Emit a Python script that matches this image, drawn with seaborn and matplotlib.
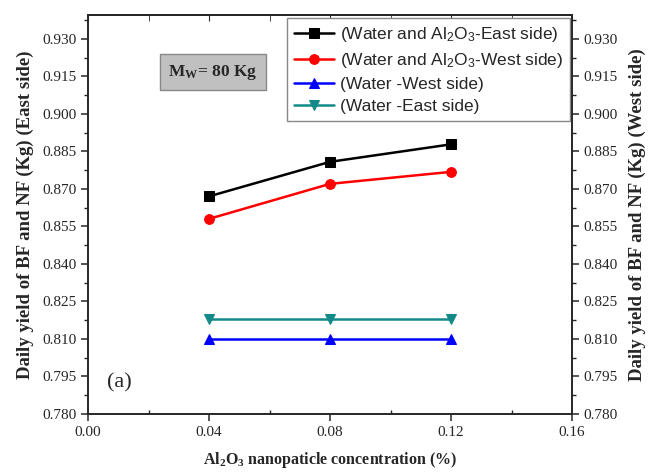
import matplotlib
matplotlib.use("Agg")
import matplotlib.pyplot as plt
import seaborn as sns
import pandas as pd
from matplotlib.ticker import MultipleLocator

conc = [0.04, 0.08, 0.12]
east_al2o3 = [0.867, 0.8808, 0.8878]
west_al2o3 = [0.858, 0.8720, 0.8768]
water_west = [0.810, 0.810, 0.810]
water_east = [0.8178, 0.8178, 0.8178]

labels = [
    r"(Water and Al$\mathregular{_2}$O$\mathregular{_3}$-East side)",
    r"(Water and Al$\mathregular{_2}$O$\mathregular{_3}$-West side)",
    "(Water -West side)",
    "(Water -East side)",
]
series = [east_al2o3, west_al2o3, water_west, water_east]
colors = ["#000000", "#ff0000", "#0000ff", "#138a87"]
markers = ["s", "o", "^", "v"]

sns.set_style("ticks")
plt.rcParams["font.family"] = ["Liberation Serif", "DejaVu Serif"]
plt.rcParams["axes.linewidth"] = 1.2

fig = plt.figure(figsize=(6.62, 4.72), dpi=100)
ax = fig.add_axes([88/662, 1-414/472, (572-88)/662, (414-15)/472])

for lab, vals, c, m in zip(labels, series, colors, markers):
    df = pd.DataFrame({"x": conc, "y": vals})
    sns.lineplot(data=df, x="x", y="y", ax=ax, color=c, marker=m, markersize=7,
                 markeredgecolor=c, linewidth=1.8, label=lab)

ax.set_xlim(0, 0.16)
ax.set_ylim(0.78, 0.9395)
ax.xaxis.set_minor_locator(MultipleLocator(0.02))
ax.yaxis.set_minor_locator(MultipleLocator(0.0075))
ax.set_xticks([0.0, 0.04, 0.08, 0.12, 0.16])
ax.set_xticklabels(["0.00", "0.04", "0.08", "0.12", "0.16"])
yt = [0.78 + 0.015*i for i in range(11)]
ax.set_yticks(yt)
ax.set_yticklabels([f"{v:.3f}" for v in yt])
ax.tick_params(axis="both", which="major", direction="out", length=5, width=1.1, labelsize=11)
ax.tick_params(axis="both", which="minor", direction="out", length=3, width=1.0)
ax.tick_params(axis="x", which="minor", direction="in")

ax.set_xlabel(r"Al$\mathregular{_2}$O$\mathregular{_3}$ nanopaticle concentration (%)",
              fontweight="bold", fontsize=11.5, labelpad=8)
ax.set_ylabel("Daily yield of BF and NF (Kg) (East side)", fontweight="bold", fontsize=13.5, labelpad=6)

# right axis
ax2 = ax.twinx()
ax2.set_ylim(ax.get_ylim())
ax2.set_yticks(yt)
ax2.set_yticklabels([f"{v:.3f}" for v in yt])
ax2.yaxis.set_minor_locator(MultipleLocator(0.0075))
ax2.tick_params(axis="y", which="major", direction="out", length=5, width=1.1, labelsize=11)
ax2.tick_params(axis="y", which="minor", direction="out", length=3, width=1.0)
ax2.set_ylabel("Daily yield of BF and NF (Kg) (West side)", fontweight="bold", fontsize=13.5, labelpad=8)

# top ticks
top = ax.secondary_xaxis("top")
top.set_xticks([0.0, 0.04, 0.08, 0.12, 0.16])
top.xaxis.set_minor_locator(MultipleLocator(0.02))
top.tick_params(which="both", direction="in", length=4, labeltop=False)
top.set_xticklabels([])

leg = ax.legend(loc="upper right", bbox_to_anchor=(0.996, 0.9925), frameon=True, fancybox=False,
                edgecolor="#888888", framealpha=1, borderaxespad=0.0,
                prop={"family": "Liberation Sans", "size": 12.5}, handlelength=2.3,
                handletextpad=0.35, labelspacing=0.4, borderpad=0.4)
leg.get_frame().set_linewidth(1.0)

ax.text(0.258, 0.857, r"M$\mathregular{_W}$= 80 Kg", transform=ax.transAxes, fontsize=12.5,
        fontweight="bold", ha="center", va="center",
        bbox=dict(boxstyle="square,pad=0.5", facecolor="#c0c0c0", edgecolor="#888888"))
ax.text(0.04, 0.077, "(a)", transform=ax.transAxes, fontsize=16, ha="left", va="center")

fig.savefig("out.png", dpi=100)
